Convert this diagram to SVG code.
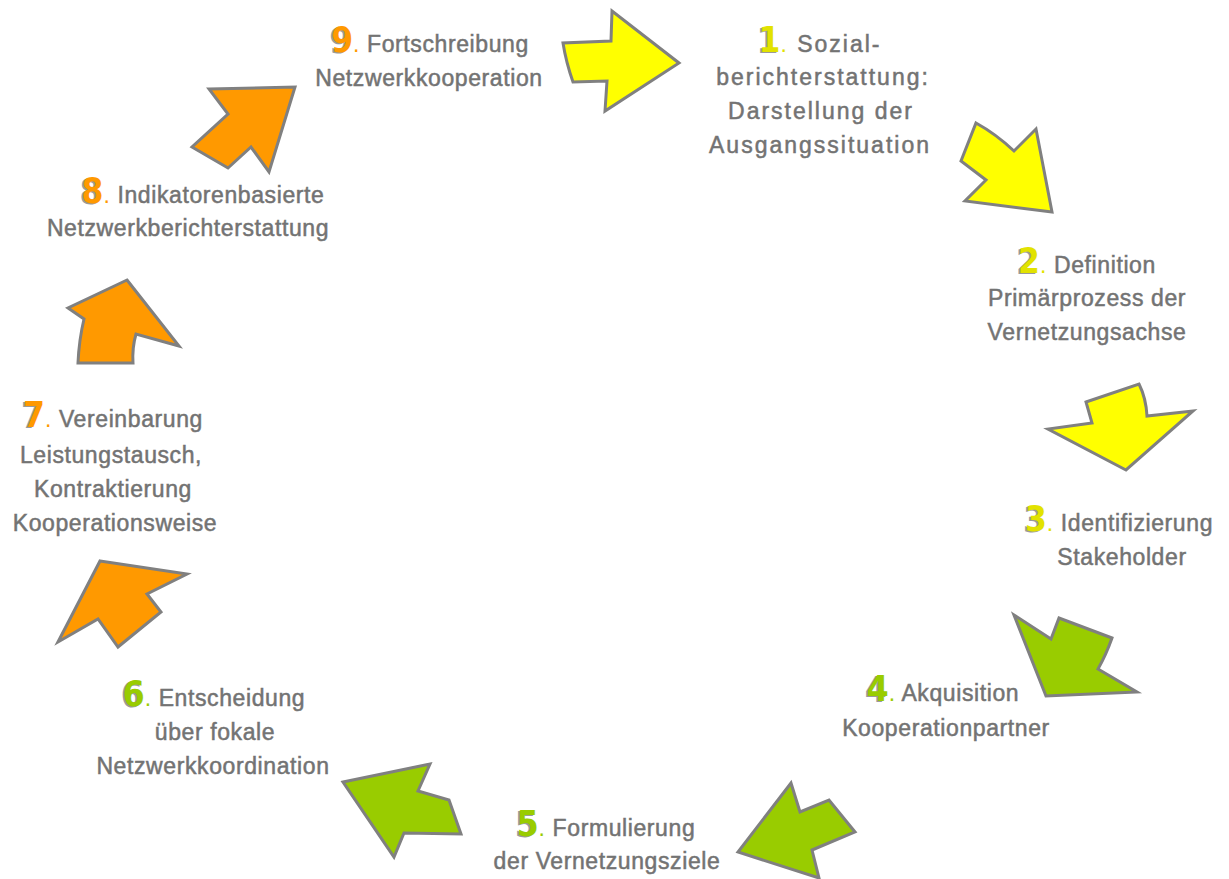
<svg xmlns="http://www.w3.org/2000/svg" width="1229" height="879" viewBox="0 0 1229 879">
<style>
.lbl{font-family:"Liberation Sans",Arial,sans-serif;font-size:23px;fill:#737373;stroke:#737373;stroke-width:0.5;text-anchor:middle;letter-spacing:0.6px}
.wide{letter-spacing:2px}
.num{font-family:"DejaVu Sans",sans-serif;font-stretch:condensed;font-weight:bold;font-size:35px;stroke:none;letter-spacing:0}
.dot{font-size:23px;stroke:none}
.ghost{fill:none;stroke:none}
.ghost .num{fill:#9a9a9a}
.ghost .dot{fill:none}
.y{fill:#e2e200}
.g{fill:#99cc00}
.o{fill:#ff9900}
.arr{stroke:#808080;stroke-width:3;stroke-linejoin:miter}
.ay{fill:#ffff00}
.ag{fill:#99cc00}
.ao{fill:#ff9900}
</style>
<rect width="1229" height="879" fill="#ffffff"/>
<g id="connectors">
<path class="arr ay" d="M563,43 Q566,62 573,82 L607,81 L605,111 L679,63 L612,11 L611,41 Z"/>
<path class="arr ay" d="M976,123 Q996,134 1014,151 L1036,129 L1052,212 L965,201 L986,180 L961,161 Z"/>
<path class="arr ay" d="M1086,402 L1139,384 Q1146,398 1147,416 L1193,411 L1126,470 L1048,429 L1092,423 Z"/>
<path class="arr ag" d="M1014,615 L1051,639 L1059,618 L1112,638 Q1106,655 1098,669 L1137,692 L1046,696 Z"/>
<path class="arr ag" d="M791,783 L800,812 L829,800 L855,832 L812,850 L819,878 L738,852 Z"/>
<path class="arr ag" d="M343,782 L430,764 L418,791 L449,800 L461,834 L404,833 L394,857 Z"/>
<path class="arr ao" d="M100,561 L187,574 L147,594 L161,612 L118,647 L98,619 L58,642 Z"/>
<path class="arr ao" d="M127,280 L179,346 L136,334 Q132,348 133,363 L78,363 Q79,340 84,319 L68,308 Z"/>
<path class="arr ao" d="M209,89 L295,87 L269,172 L251,147 L228,168 L192,147 L228,114 Z"/>
</g>
<g id="node1">
<text class="lbl wide ghost" x="820" y="52" transform="translate(-2,1)"><tspan class="num">1</tspan><tspan class="dot">.</tspan> Sozial-</text>
<text class="lbl wide" x="820" y="52"><tspan class="num y">1</tspan><tspan class="dot y">.</tspan> Sozial-</text>
<text class="lbl wide" x="823" y="85">berichterstattung:</text>
<text class="lbl wide" x="821" y="119">Darstellung der</text>
<text class="lbl wide" x="820" y="153">Ausgangssituation</text>
</g>
<g id="node2">
<text class="lbl ghost" x="1087" y="273" transform="translate(-2,1)"><tspan class="num">2</tspan><tspan class="dot">.</tspan> Definition</text>
<text class="lbl" x="1087" y="273"><tspan class="num y">2</tspan><tspan class="dot y">.</tspan> Definition</text>
<text class="lbl" x="1087" y="306">Primärprozess der</text>
<text class="lbl" x="1087" y="340">Vernetzungsachse</text>
</g>
<g id="node3">
<text class="lbl ghost" x="1119" y="531" transform="translate(-2,1)"><tspan class="num">3</tspan><tspan class="dot">.</tspan> Identifizierung</text>
<text class="lbl" x="1119" y="531"><tspan class="num y">3</tspan><tspan class="dot y">.</tspan> Identifizierung</text>
<text class="lbl" x="1122" y="565">Stakeholder</text>
</g>
<g id="node4">
<text class="lbl ghost" x="943" y="701" transform="translate(-2,1)"><tspan class="num">4</tspan><tspan class="dot">.</tspan> Akquisition</text>
<text class="lbl" x="943" y="701"><tspan class="num g">4</tspan><tspan class="dot g">.</tspan> Akquisition</text>
<text class="lbl" x="946" y="736">Kooperationpartner</text>
</g>
<g id="node5">
<text class="lbl ghost" x="606" y="836" transform="translate(-2,1)"><tspan class="num">5</tspan><tspan class="dot">.</tspan> Formulierung</text>
<text class="lbl" x="606" y="836"><tspan class="num g">5</tspan><tspan class="dot g">.</tspan> Formulierung</text>
<text class="lbl" x="607" y="869">der Vernetzungsziele</text>
</g>
<g id="node6">
<text class="lbl ghost" x="214" y="706" transform="translate(-2,1)"><tspan class="num">6</tspan><tspan class="dot">.</tspan> Entscheidung</text>
<text class="lbl" x="214" y="706"><tspan class="num g">6</tspan><tspan class="dot g">.</tspan> Entscheidung</text>
<text class="lbl" x="215" y="740">über fokale</text>
<text class="lbl" x="213" y="774">Netzwerkkoordination</text>
</g>
<g id="node7">
<text class="lbl ghost" x="113" y="427" transform="translate(-2,1)"><tspan class="num">7</tspan><tspan class="dot">.</tspan> Vereinbarung</text>
<text class="lbl" x="113" y="427"><tspan class="num o">7</tspan><tspan class="dot o">.</tspan> Vereinbarung</text>
<text class="lbl" x="111" y="463">Leistungstausch,</text>
<text class="lbl" x="113" y="497">Kontraktierung</text>
<text class="lbl" x="115" y="531">Kooperationsweise</text>
</g>
<g id="node8">
<text class="lbl ghost" x="203" y="203" transform="translate(-2,1)"><tspan class="num">8</tspan><tspan class="dot">.</tspan> Indikatorenbasierte</text>
<text class="lbl" x="203" y="203"><tspan class="num o">8</tspan><tspan class="dot o">.</tspan> Indikatorenbasierte</text>
<text class="lbl" x="188" y="236">Netzwerkberichterstattung</text>
</g>
<g id="node9">
<text class="lbl ghost" x="430" y="52" transform="translate(-2,1)"><tspan class="num">9</tspan><tspan class="dot">.</tspan> Fortschreibung</text>
<text class="lbl" x="430" y="52"><tspan class="num o">9</tspan><tspan class="dot o">.</tspan> Fortschreibung</text>
<text class="lbl" x="429" y="86">Netzwerkkooperation</text>
</g>
</svg>
